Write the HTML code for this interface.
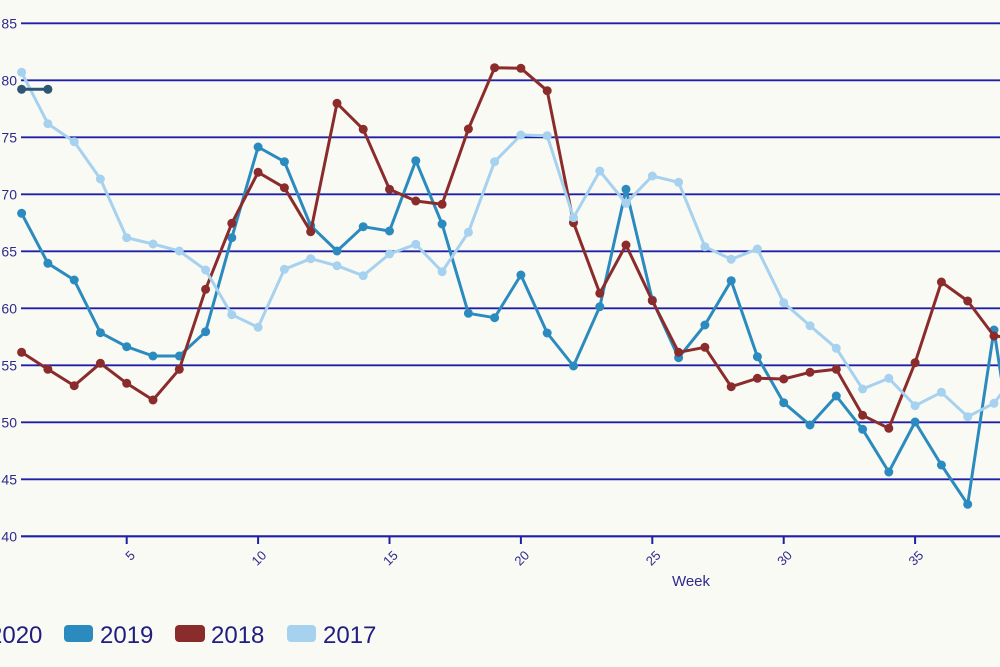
<!DOCTYPE html>
<html>
<head>
<meta charset="utf-8">
<style>
  html, body { margin: 0; padding: 0; background: #fafaf5; }
  body { width: 1000px; height: 667px; overflow: hidden; }
  svg { display: block; font-family: "Liberation Sans", "DejaVu Sans", sans-serif; }
</style>
</head>
<body>
<svg width="1000" height="667" viewBox="0 0 1000 667" xmlns="http://www.w3.org/2000/svg">
  <rect x="0" y="0" width="1000" height="667" fill="#fafaf5"/>

  <!-- gridlines -->
  <g stroke="#2020a6" stroke-width="1.8">
    <line x1="21" y1="23.3" x2="1000" y2="23.3"/>
    <line x1="21" y1="80.3" x2="1000" y2="80.3"/>
    <line x1="21" y1="137.3" x2="1000" y2="137.3"/>
    <line x1="21" y1="194.3" x2="1000" y2="194.3"/>
    <line x1="21" y1="251.3" x2="1000" y2="251.3"/>
    <line x1="21" y1="308.3" x2="1000" y2="308.3"/>
    <line x1="21" y1="365.3" x2="1000" y2="365.3"/>
    <line x1="21" y1="422.3" x2="1000" y2="422.3"/>
    <line x1="21" y1="479.3" x2="1000" y2="479.3"/>
    <line x1="21" y1="536.3" x2="1000" y2="536.3" stroke-width="2.2"/>
  </g>
  <!-- x ticks -->
  <g stroke="#2020a6" stroke-width="2">
    <line x1="126.7" y1="536" x2="126.7" y2="544"/>
    <line x1="258.1" y1="536" x2="258.1" y2="544"/>
    <line x1="389.5" y1="536" x2="389.5" y2="544"/>
    <line x1="520.9" y1="536" x2="520.9" y2="544"/>
    <line x1="652.3" y1="536" x2="652.3" y2="544"/>
    <line x1="783.7" y1="536" x2="783.7" y2="544"/>
    <line x1="915.1" y1="536" x2="915.1" y2="544"/>
  </g>

  <!-- y labels -->
  <g fill="#2e2a8c" font-size="14" text-anchor="end" dominant-baseline="central">
    <text x="17" y="23.3">85</text>
    <text x="17" y="80.3">80</text>
    <text x="17" y="137.3">75</text>
    <text x="17" y="194.3">70</text>
    <text x="17" y="251.3">65</text>
    <text x="17" y="308.3">60</text>
    <text x="17" y="365.3">55</text>
    <text x="17" y="422.3">50</text>
    <text x="17" y="479.3">45</text>
    <text x="17" y="536.3">40</text>
  </g>
  <!-- x labels -->
  <g fill="#2e2a8c" font-size="13" text-anchor="end" dominant-baseline="central">
    <text transform="translate(132.7,553) rotate(-45)">5</text>
    <text transform="translate(264.1,553) rotate(-45)">10</text>
    <text transform="translate(395.5,553) rotate(-45)">15</text>
    <text transform="translate(526.9,553) rotate(-45)">20</text>
    <text transform="translate(658.3,553) rotate(-45)">25</text>
    <text transform="translate(789.7,553) rotate(-45)">30</text>
    <text transform="translate(921.1,553) rotate(-45)">35</text>
  </g>
  <text x="691" y="586" fill="#2e2a8c" font-size="15" text-anchor="middle">Week</text>

  <!-- 2019 -->
  <g stroke="#2b8bbf" fill="#2b8bbf">
    <polyline fill="none" stroke-width="3" stroke-linejoin="round" points="21.6,213.3 47.9,263.3 74.2,280 100.4,332.7 126.7,346.7 153,356 179.3,356 205.6,331.7 231.8,237.7 258.1,147 284.4,161.7 310.7,225.7 337,251 363.2,226.7 389.5,231 415.8,160.7 442.1,224 468.4,313.3 494.6,317.7 520.9,275 547.2,333 573.5,366 599.8,306.7 626,189.3 652.3,300 678.6,357.7 704.9,325 731.2,280.7 757.4,356.7 783.7,402.7 810,425 836.3,396 862.6,429.3 888.8,472 915.1,422 941.4,465 967.7,504.3 994,330 1020.2,501"/>
    <g stroke="none">
      <circle cx="21.6" cy="213.3" r="4.5"/><circle cx="47.9" cy="263.3" r="4.5"/><circle cx="74.2" cy="280" r="4.5"/><circle cx="100.4" cy="332.7" r="4.5"/><circle cx="126.7" cy="346.7" r="4.5"/><circle cx="153" cy="356" r="4.5"/><circle cx="179.3" cy="356" r="4.5"/><circle cx="205.6" cy="331.7" r="4.5"/><circle cx="231.8" cy="237.7" r="4.5"/><circle cx="258.1" cy="147" r="4.5"/><circle cx="284.4" cy="161.7" r="4.5"/><circle cx="310.7" cy="225.7" r="4.5"/><circle cx="337" cy="251" r="4.5"/><circle cx="363.2" cy="226.7" r="4.5"/><circle cx="389.5" cy="231" r="4.5"/><circle cx="415.8" cy="160.7" r="4.5"/><circle cx="442.1" cy="224" r="4.5"/><circle cx="468.4" cy="313.3" r="4.5"/><circle cx="494.6" cy="317.7" r="4.5"/><circle cx="520.9" cy="275" r="4.5"/><circle cx="547.2" cy="333" r="4.5"/><circle cx="573.5" cy="366" r="4.5"/><circle cx="599.8" cy="306.7" r="4.5"/><circle cx="626" cy="189.3" r="4.5"/><circle cx="652.3" cy="300" r="4.5"/><circle cx="678.6" cy="357.7" r="4.5"/><circle cx="704.9" cy="325" r="4.5"/><circle cx="731.2" cy="280.7" r="4.5"/><circle cx="757.4" cy="356.7" r="4.5"/><circle cx="783.7" cy="402.7" r="4.5"/><circle cx="810" cy="425" r="4.5"/><circle cx="836.3" cy="396" r="4.5"/><circle cx="862.6" cy="429.3" r="4.5"/><circle cx="888.8" cy="472" r="4.5"/><circle cx="915.1" cy="422" r="4.5"/><circle cx="941.4" cy="465" r="4.5"/><circle cx="967.7" cy="504.3" r="4.5"/><circle cx="994" cy="330" r="4.5"/>
    </g>
  </g>

  <!-- 2018 -->
  <g stroke="#8b2c2c" fill="#8b2c2c">
    <polyline fill="none" stroke-width="3" stroke-linejoin="round" points="21.6,352.3 47.9,369.3 74.2,385.7 100.4,363.3 126.7,383.3 153,400 179.3,369.3 205.6,289.3 231.8,223.3 258.1,172.3 284.4,187.7 310.7,231.7 337,103.3 363.2,129.3 389.5,189.3 415.8,201 442.1,204.3 468.4,129 494.6,67.7 520.9,68.3 547.2,90.7 573.5,222.7 599.8,293.3 626,245 652.3,300.7 678.6,352.3 704.9,347.3 731.2,386.7 757.4,378.3 783.7,379 810,372.3 836.3,369.3 862.6,415.3 888.8,428.3 915.1,362.7 941.4,282 967.7,301 994,336 1020.2,338"/>
    <g stroke="none">
      <circle cx="21.6" cy="352.3" r="4.5"/><circle cx="47.9" cy="369.3" r="4.5"/><circle cx="74.2" cy="385.7" r="4.5"/><circle cx="100.4" cy="363.3" r="4.5"/><circle cx="126.7" cy="383.3" r="4.5"/><circle cx="153" cy="400" r="4.5"/><circle cx="179.3" cy="369.3" r="4.5"/><circle cx="205.6" cy="289.3" r="4.5"/><circle cx="231.8" cy="223.3" r="4.5"/><circle cx="258.1" cy="172.3" r="4.5"/><circle cx="284.4" cy="187.7" r="4.5"/><circle cx="310.7" cy="231.7" r="4.5"/><circle cx="337" cy="103.3" r="4.5"/><circle cx="363.2" cy="129.3" r="4.5"/><circle cx="389.5" cy="189.3" r="4.5"/><circle cx="415.8" cy="201" r="4.5"/><circle cx="442.1" cy="204.3" r="4.5"/><circle cx="468.4" cy="129" r="4.5"/><circle cx="494.6" cy="67.7" r="4.5"/><circle cx="520.9" cy="68.3" r="4.5"/><circle cx="547.2" cy="90.7" r="4.5"/><circle cx="573.5" cy="222.7" r="4.5"/><circle cx="599.8" cy="293.3" r="4.5"/><circle cx="626" cy="245" r="4.5"/><circle cx="652.3" cy="300.7" r="4.5"/><circle cx="678.6" cy="352.3" r="4.5"/><circle cx="704.9" cy="347.3" r="4.5"/><circle cx="731.2" cy="386.7" r="4.5"/><circle cx="757.4" cy="378.3" r="4.5"/><circle cx="783.7" cy="379" r="4.5"/><circle cx="810" cy="372.3" r="4.5"/><circle cx="836.3" cy="369.3" r="4.5"/><circle cx="862.6" cy="415.3" r="4.5"/><circle cx="888.8" cy="428.3" r="4.5"/><circle cx="915.1" cy="362.7" r="4.5"/><circle cx="941.4" cy="282" r="4.5"/><circle cx="967.7" cy="301" r="4.5"/><circle cx="994" cy="336" r="4.5"/>
    </g>
  </g>

  <!-- 2017 -->
  <g stroke="#a6d1ef" fill="#a6d1ef">
    <polyline fill="none" stroke-width="3" stroke-linejoin="round" points="21.6,72.3 47.9,123.7 74.2,141.7 100.4,179 126.7,237.7 153,244 179.3,251 205.6,270 231.8,314.7 258.1,327.3 284.4,269.3 310.7,258.7 337,265.7 363.2,275.7 389.5,254 415.8,244.3 442.1,271.7 468.4,232.3 494.6,161.7 520.9,135 547.2,135.7 573.5,217.7 599.8,171 626,203.3 652.3,176 678.6,182.3 704.9,246.7 731.2,259.3 757.4,249 783.7,302.7 810,325.7 836.3,348.3 862.6,389 888.8,378.3 915.1,405.7 941.4,392.3 967.7,416.7 994,403.3 1020.2,369"/>
    <g stroke="none">
      <circle cx="21.6" cy="72.3" r="4.5"/><circle cx="47.9" cy="123.7" r="4.5"/><circle cx="74.2" cy="141.7" r="4.5"/><circle cx="100.4" cy="179" r="4.5"/><circle cx="126.7" cy="237.7" r="4.5"/><circle cx="153" cy="244" r="4.5"/><circle cx="179.3" cy="251" r="4.5"/><circle cx="205.6" cy="270" r="4.5"/><circle cx="231.8" cy="314.7" r="4.5"/><circle cx="258.1" cy="327.3" r="4.5"/><circle cx="284.4" cy="269.3" r="4.5"/><circle cx="310.7" cy="258.7" r="4.5"/><circle cx="337" cy="265.7" r="4.5"/><circle cx="363.2" cy="275.7" r="4.5"/><circle cx="389.5" cy="254" r="4.5"/><circle cx="415.8" cy="244.3" r="4.5"/><circle cx="442.1" cy="271.7" r="4.5"/><circle cx="468.4" cy="232.3" r="4.5"/><circle cx="494.6" cy="161.7" r="4.5"/><circle cx="520.9" cy="135" r="4.5"/><circle cx="547.2" cy="135.7" r="4.5"/><circle cx="573.5" cy="217.7" r="4.5"/><circle cx="599.8" cy="171" r="4.5"/><circle cx="626" cy="203.3" r="4.5"/><circle cx="652.3" cy="176" r="4.5"/><circle cx="678.6" cy="182.3" r="4.5"/><circle cx="704.9" cy="246.7" r="4.5"/><circle cx="731.2" cy="259.3" r="4.5"/><circle cx="757.4" cy="249" r="4.5"/><circle cx="783.7" cy="302.7" r="4.5"/><circle cx="810" cy="325.7" r="4.5"/><circle cx="836.3" cy="348.3" r="4.5"/><circle cx="862.6" cy="389" r="4.5"/><circle cx="888.8" cy="378.3" r="4.5"/><circle cx="915.1" cy="405.7" r="4.5"/><circle cx="941.4" cy="392.3" r="4.5"/><circle cx="967.7" cy="416.7" r="4.5"/><circle cx="994" cy="403.3" r="4.5"/>
    </g>
  </g>

  <!-- 2020 -->
  <g stroke="#2d5574" fill="#2d5574">
    <polyline fill="none" stroke-width="3" points="21.6,89.3 47.9,89.3"/>
    <circle cx="21.6" cy="89.3" r="4.5" stroke="none"/>
    <circle cx="47.9" cy="89.3" r="4.5" stroke="none"/>
  </g>

  <!-- legend -->
  <g font-size="24" fill="#201c80">
    <text x="-11" y="643">2020</text>
    <rect x="64" y="625" width="29" height="17" rx="4" fill="#2b8bbf"/>
    <text x="100" y="643">2019</text>
    <rect x="175" y="625" width="30" height="17" rx="4" fill="#8b2c2c"/>
    <text x="211" y="643">2018</text>
    <rect x="287" y="625" width="29" height="17" rx="4" fill="#a6d1ef"/>
    <text x="323" y="643">2017</text>
  </g>
</svg>
</body>
</html>
